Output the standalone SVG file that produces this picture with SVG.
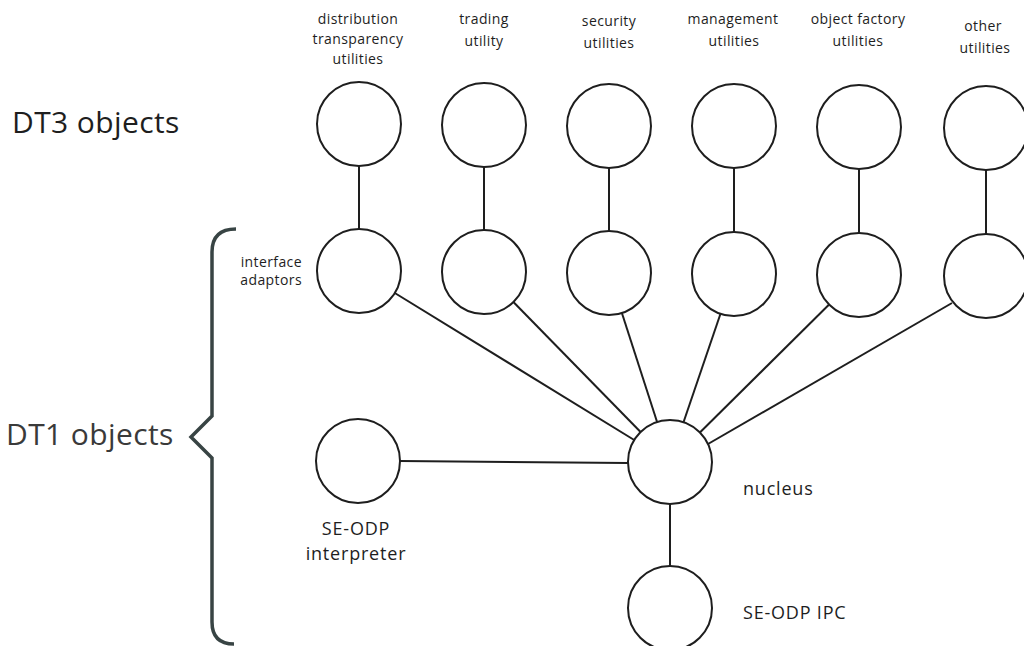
<svg xmlns="http://www.w3.org/2000/svg" width="1024" height="646" viewBox="0 0 1024 646">
  <style>
    .node { fill: #ffffff; stroke: #1e1e1e; stroke-width: 2; }
    .conn line { stroke: #1e1e1e; stroke-width: 2; }
    .lbl { font-family: "Open Sans", "Noto Sans", sans-serif; fill: #1e1e1e; }
    .top { font-size: 14px; letter-spacing: 0.4px; text-anchor: middle; }
    .mid { font-size: 18px; letter-spacing: 0.8px; }
    .big { font-size: 30px; letter-spacing: 0.4px; }
    .brace { fill: none; stroke: #384444; stroke-width: 3.5; stroke-linejoin: miter; }
  </style>
  <rect width="1024" height="646" fill="#ffffff"/>

  <!-- group labels -->
  <text class="lbl big" x="12" y="133">DT3 objects</text>
  <text class="lbl big" x="6" y="445" style="fill:#3a3a3a">DT1 objects</text>
  <path class="brace" d="M236 229 Q212 229 212 252 L212 416 L191 437 L212 458 L212 622 Q212 644 234 644"/>

  <!-- connectors -->
  <g id="connectors" class="conn">
    <line x1="359" y1="166" x2="359" y2="229"/>
    <line x1="484" y1="167" x2="484" y2="230"/>
    <line x1="609" y1="168" x2="609" y2="231"/>
    <line x1="734" y1="168" x2="734" y2="232"/>
    <line x1="859" y1="169" x2="859" y2="233"/>
    <line x1="986" y1="170" x2="986" y2="234"/>
    <line x1="394.8" y1="293" x2="634.2" y2="440"/>
    <line x1="513.4" y1="302" x2="640.6" y2="432"/>
    <line x1="621.9" y1="313" x2="657.1" y2="422"/>
    <line x1="720.5" y1="313.8" x2="683.5" y2="422.2"/>
    <line x1="829.1" y1="304.5" x2="699.9" y2="432.5"/>
    <line x1="952" y1="303" x2="708" y2="444"/>
    <line x1="400" y1="461" x2="628" y2="463"/>
    <line x1="670" y1="504" x2="670" y2="566"/>
  </g>

  <!-- DT3 utility objects -->
  <g id="dt3-distribution">
    <circle class="node" cx="359" cy="124" r="42"/>
    <text class="lbl top" x="358" y="24">distribution</text>
    <text class="lbl top" x="358" y="44">transparency</text>
    <text class="lbl top" x="358" y="64">utilities</text>
  </g>
  <g id="dt3-trading">
    <circle class="node" cx="484" cy="125" r="42"/>
    <text class="lbl top" x="484" y="24">trading</text>
    <text class="lbl top" x="484" y="46">utility</text>
  </g>
  <g id="dt3-security">
    <circle class="node" cx="609" cy="126" r="42"/>
    <text class="lbl top" x="609" y="26">security</text>
    <text class="lbl top" x="609" y="48">utilities</text>
  </g>
  <g id="dt3-management">
    <circle class="node" cx="734" cy="126" r="42"/>
    <text class="lbl top" x="733" y="24">management</text>
    <text class="lbl top" x="734" y="46">utilities</text>
  </g>
  <g id="dt3-factory">
    <circle class="node" cx="859" cy="127" r="42"/>
    <text class="lbl top" x="858" y="24">object factory</text>
    <text class="lbl top" x="858" y="46">utilities</text>
  </g>
  <g id="dt3-other">
    <circle class="node" cx="986" cy="128" r="42"/>
    <text class="lbl top" x="983" y="31">other</text>
    <text class="lbl top" x="985" y="53">utilities</text>
  </g>

  <!-- DT1 interface adaptors -->
  <g id="adaptor-1">
    <circle class="node" cx="359" cy="271" r="42"/>
    <text class="lbl top" x="302" y="267" style="text-anchor:end">interface</text>
    <text class="lbl top" x="302" y="285" style="text-anchor:end">adaptors</text>
  </g>
  <g id="adaptor-2"><circle class="node" cx="484" cy="272" r="42"/></g>
  <g id="adaptor-3"><circle class="node" cx="609" cy="273" r="42"/></g>
  <g id="adaptor-4"><circle class="node" cx="734" cy="274" r="42"/></g>
  <g id="adaptor-5"><circle class="node" cx="859" cy="275" r="42"/></g>
  <g id="adaptor-6"><circle class="node" cx="986" cy="276" r="42"/></g>

  <!-- DT1 core objects -->
  <g id="interpreter">
    <circle class="node" cx="358" cy="461" r="42"/>
    <text class="lbl mid" x="356" y="535" text-anchor="middle">SE-ODP</text>
    <text class="lbl mid" x="356" y="560" text-anchor="middle">interpreter</text>
  </g>
  <g id="nucleus">
    <circle class="node" cx="670" cy="462" r="42"/>
    <text class="lbl mid" x="743" y="495">nucleus</text>
  </g>
  <g id="ipc">
    <circle class="node" cx="670" cy="608" r="42"/>
    <text class="lbl mid" x="743" y="619">SE-ODP IPC</text>
  </g>
</svg>
